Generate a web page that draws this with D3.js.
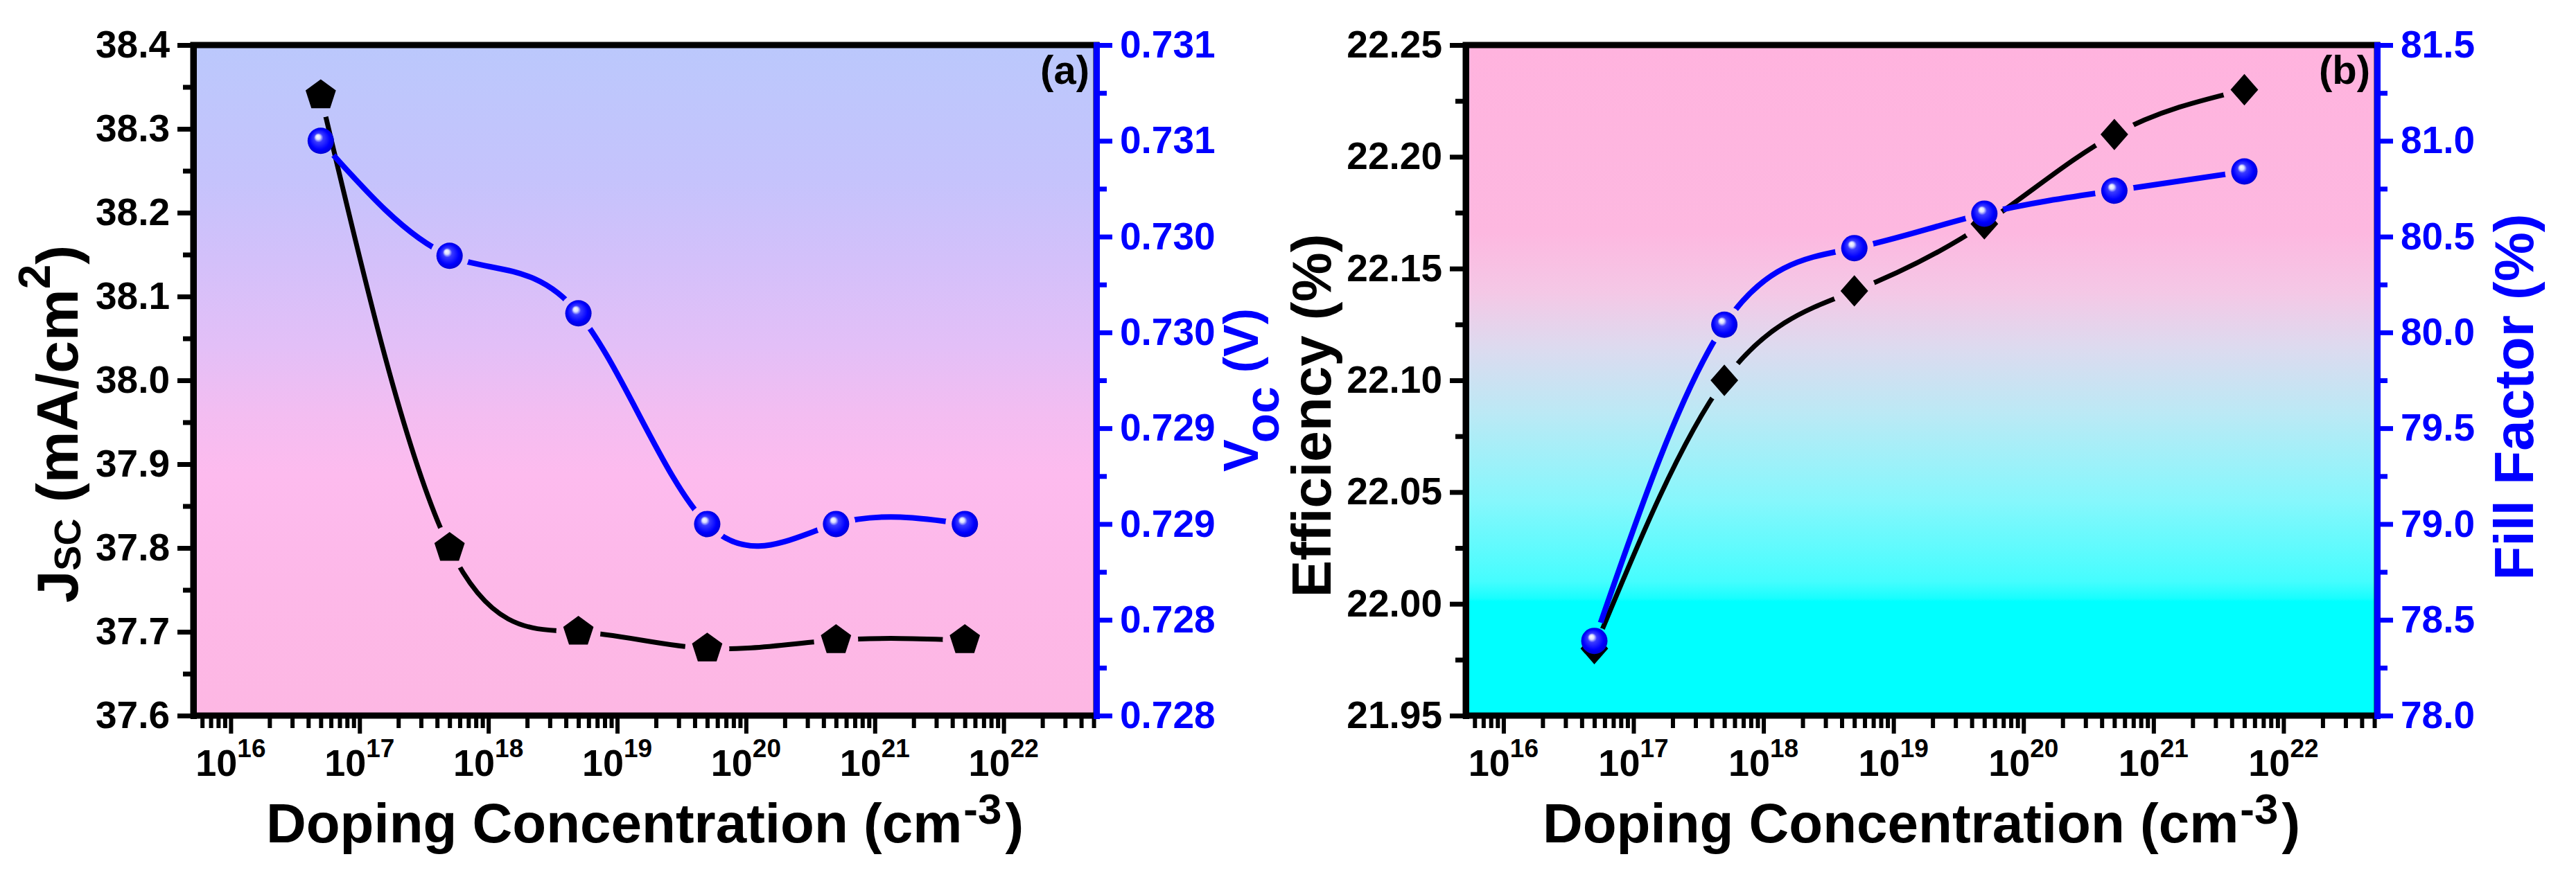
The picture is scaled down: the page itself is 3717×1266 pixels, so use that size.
<!DOCTYPE html>
<html>
<head>
<meta charset="utf-8">
<script src="https://cdn.jsdelivr.net/npm/d3@7"></script>
<style>
  html, body { margin: 0; padding: 0; background: #fff; }
  svg { display: block; font-family: "Liberation Sans", Arial, sans-serif; font-weight: bold; }
</style>
</head>
<body>
<svg id="chart"></svg>
<script>
// ---- data ----
const doping = [5e16, 5e17, 5e18, 5e19, 5e20, 5e21];
const jsc = [38.34, 37.80, 37.70, 37.68, 37.69, 37.69];
const voc = [0.7310, 0.7304, 0.7301, 0.7290, 0.7290, 0.7290];
const efficiency = [21.98, 22.10, 22.14, 22.17, 22.21, 22.23];
const fillFactor = [78.39, 80.04, 80.44, 80.62, 80.74, 80.84];

const xTickExps = [16, 17, 18, 19, 20, 21, 22];
const jscTicks = [37.6, 37.7, 37.8, 37.9, 38.0, 38.1, 38.2, 38.3, 38.4];
const vocTicks = [0.7280, 0.7285, 0.7290, 0.7295, 0.7300, 0.7305, 0.7310, 0.7315];
const vocTickLabels = ['0.728', '0.728', '0.729', '0.729', '0.730', '0.730', '0.731', '0.731'];
const effTicks = [21.95, 22.00, 22.05, 22.10, 22.15, 22.20, 22.25];
const ffTicks = [78.0, 78.5, 79.0, 79.5, 80.0, 80.5, 81.0, 81.5];

const W = 3717, H = 1266;
const BLUE = '#0000ff';

const svg = d3.select('#chart').attr('width', W).attr('height', H);
const defs = svg.append('defs');

// sphere marker gradient
const sphere = defs.append('radialGradient').attr('id', 'sphere')
    .attr('cx', 0.5).attr('cy', 0.5).attr('r', 0.55).attr('fx', 0.38).attr('fy', 0.33);
[[0, '#ffffff'], [0.16, '#d8dcff'], [0.32, '#3a3aff'], [0.7, '#0000ff'], [1, '#0000c8']]
    .forEach(s => sphere.append('stop').attr('offset', s[0]).attr('stop-color', s[1]));

// custom marker shapes (size = radius)
const symbolPentagon = {
    draw(ctx, r) {
        for (let i = 0; i < 5; i++) {
            const a = -Math.PI / 2 + i * 2 * Math.PI / 5;
            if (i === 0) ctx.moveTo(r * Math.cos(a), r * Math.sin(a));
            else ctx.lineTo(r * Math.cos(a), r * Math.sin(a));
        }
        ctx.closePath();
    }
};
const symbolDiamondSq = {
    draw(ctx, r) {
        ctx.moveTo(0, -r * 1.08);
        ctx.lineTo(r * 0.95, 0);
        ctx.lineTo(0, r * 1.08);
        ctx.lineTo(-r * 0.95, 0);
        ctx.closePath();
    }
};

class DualAxisPanel {
    constructor(config, data) {
        this.config = config;
        this.data = data;
        this.init();
    }

    init() {
        let self = this;
        const c = self.config;

        self.g = svg.append('g');
        self.inner_width = c.right - c.left;
        self.inner_height = c.bottom - c.top;

        // background gradient
        const grad = defs.append('linearGradient').attr('id', c.id + '-bg')
            .attr('x1', 0).attr('y1', 0).attr('x2', 0).attr('y2', 1);
        c.bgStops.forEach(s => grad.append('stop').attr('offset', s[0]).attr('stop-color', s[1]));

        self.g.append('rect')
            .attr('x', c.left).attr('y', c.top)
            .attr('width', self.inner_width).attr('height', self.inner_height)
            .attr('fill', `url(#${c.id}-bg)`);

        self.xscale = d3.scaleLog()
            .domain([Math.pow(10, 15.71), Math.pow(10, 22.72)])
            .range([c.left, c.right]);

        self.yleft = d3.scaleLinear()
            .domain(d3.extent(c.leftTicks))
            .range([c.bottom, c.top]);

        self.yright = d3.scaleLinear()
            .domain(d3.extent(c.rightTicks))
            .range([c.bottom, c.top]);
    }

    render() {
        let self = this;
        const c = self.config;

        // ---- series ----
        const line = (ys) => d3.line()
            .x(d => self.xscale(d.x))
            .y(d => ys(d.y))
            .curve(d3.curveNatural);

        const leftPts = self.data.x.map((x, i) => ({ x: x, y: self.data.left[i] }));
        const rightPts = self.data.x.map((x, i) => ({ x: x, y: self.data.right[i] }));

        self.drawSeries(leftPts, self.yleft, line(self.yleft), '#000', 7, 'left', c.leftGap);
        self.drawSeries(rightPts, self.yright, line(self.yright), BLUE, 8, 'right', 28);

        self.g.append('g').selectAll('path')
            .data(leftPts)
            .join('path')
            .attr('transform', d => `translate(${self.xscale(d.x)},${self.yleft(d.y)})`)
            .attr('d', d3.symbol().type(c.leftSymbol).size(c.leftSize))
            .attr('fill', '#000');

        self.g.append('g').selectAll('circle')
            .data(rightPts)
            .join('circle')
            .attr('cx', d => self.xscale(d.x))
            .attr('cy', d => self.yright(d.y))
            .attr('r', 19)
            .attr('fill', 'url(#sphere)');

        // ---- frame ----
        self.g.append('rect')
            .attr('x', c.left).attr('y', c.top)
            .attr('width', self.inner_width).attr('height', self.inner_height)
            .attr('fill', 'none').attr('stroke', '#000').attr('stroke-width', 9);

        // ---- bottom log axis ----
        const majors = xTickExps.map(e => Math.pow(10, e));
        const minors = self.xscale.ticks().filter(v => {
            const m = v / Math.pow(10, Math.floor(Math.log10(v) + 1e-9));
            return Math.abs(m - 1) > 1e-6;
        });
        const xMinor = self.g.append('g')
            .attr('transform', `translate(0,${c.bottom})`)
            .call(d3.axisBottom(self.xscale).tickValues(minors).tickSize(18).tickSizeOuter(0).tickFormat(''));
        const xMajor = self.g.append('g')
            .attr('transform', `translate(0,${c.bottom})`)
            .call(d3.axisBottom(self.xscale).tickValues(majors).tickSize(26).tickSizeOuter(0).tickFormat(''));
        [xMinor, xMajor].forEach(a => {
            a.select('.domain').remove();
            a.selectAll('line').attr('stroke', '#000').attr('stroke-width', 6);
        });

        self.g.append('g').selectAll('text')
            .data(xTickExps)
            .join('text')
            .attr('x', e => self.xscale(Math.pow(10, e)))
            .attr('y', 1120)
            .attr('text-anchor', 'middle')
            .attr('font-size', 54)
            .attr('fill', '#000')
            .each(function (e) {
                const t = d3.select(this);
                t.append('tspan').text('10');
                t.append('tspan').attr('font-size', 37).attr('dy', -27).text(e);
            });

        // ---- left axis ----
        self.drawYAxis(d3.axisLeft, self.yleft, c.leftTicks, c.leftFormat, c.left, '#000');
        // ---- right axis ----
        self.drawYAxis(d3.axisRight, self.yright, c.rightTicks, c.rightFormat, c.right, BLUE);

        // ---- titles ----
        const xt = self.g.append('text')
            .attr('x', (c.left + c.right) / 2)
            .attr('y', 1216)
            .attr('text-anchor', 'middle')
            .attr('font-size', 80)
            .attr('fill', '#000');
        xt.append('tspan').text('Doping Concentration (cm');
        xt.append('tspan').attr('font-size', 62).attr('dy', -27).attr('dx', 2).text('-3');
        xt.append('tspan').attr('dy', 27).attr('dx', 5).text(')');

        c.leftTitle(self.g);
        c.rightTitle(self.g);

        self.g.append('text')
            .attr('x', c.right - 10)
            .attr('y', 121)
            .attr('text-anchor', 'end')
            .attr('font-size', 58)
            .attr('fill', '#000')
            .text(c.label);
    }

    drawSeries(pts, ys, lineGen, color, width, key, gap) {
        let self = this;
        const maskId = `${self.config.id}-${key}-gap`;
        const mask = defs.append('mask').attr('id', maskId)
            .attr('maskUnits', 'userSpaceOnUse')
            .attr('x', 0).attr('y', 0).attr('width', W).attr('height', H);
        mask.append('rect').attr('width', W).attr('height', H).attr('fill', '#fff');
        mask.selectAll('circle')
            .data(pts)
            .join('circle')
            .attr('cx', d => self.xscale(d.x))
            .attr('cy', d => ys(d.y))
            .attr('r', gap)
            .attr('fill', '#000');

        self.g.append('path')
            .datum(pts)
            .attr('d', lineGen)
            .attr('fill', 'none')
            .attr('stroke', color)
            .attr('stroke-width', width)
            .attr('stroke-linecap', 'round')
            .attr('mask', `url(#${maskId})`);
    }

    drawYAxis(axisFn, scale, ticks, fmt, xpos, color) {
        let self = this;
        const minors = d3.pairs(ticks).map(p => (p[0] + p[1]) / 2);

        const minorG = self.g.append('g')
            .attr('transform', `translate(${xpos},0)`)
            .call(axisFn(scale).tickValues(minors).tickSize(15).tickSizeOuter(0).tickFormat(''));
        minorG.select('.domain').remove();

        const majorG = self.g.append('g')
            .attr('transform', `translate(${xpos},0)`)
            .call(axisFn(scale).tickValues(ticks).tickSize(23).tickPadding(11).tickSizeOuter(0).tickFormat(fmt));
        majorG.select('.domain')
            .attr('stroke', color).attr('stroke-width', 9).attr('stroke-linecap', 'square');

        [minorG, majorG].forEach(a => {
            a.selectAll('line').attr('stroke', color).attr('stroke-width', 7);
        });
        majorG.attr('font-size', 55)
            .attr('font-family', '"Liberation Sans", Arial, sans-serif')
            .attr('font-weight', 'bold');
        majorG.selectAll('text').attr('fill', color);
    }
}

// ---- panel (a) ----
const panelA = new DualAxisPanel({
    id: 'pa',
    left: 279, right: 1582, top: 65, bottom: 1033,
    bgStops: [[0, '#bbc8fc'], [0.2, '#c5c3fc'], [0.32, '#d3c0fa'], [0.45, '#e3bff7'],
              [0.55, '#f3bdf1'], [0.64, '#fdbbee'], [0.8, '#fdb8e8'], [1, '#fdb7e3']],
    leftTicks: jscTicks,
    leftFormat: d3.format('.1f'),
    rightTicks: vocTicks,
    rightFormat: (d, i) => vocTickLabels[i],
    leftSymbol: symbolPentagon, leftSize: 23, leftGap: 32,
    label: '(a)',
    leftTitle: g => {
        const t = g.append('text')
            .attr('transform', 'translate(112,612) rotate(-90)')
            .attr('text-anchor', 'middle')
            .attr('font-size', 84)
            .attr('fill', '#000');
        t.append('tspan').text('J');
        t.append('tspan').attr('font-size', 54).attr('dy', 4).text('SC');
        t.append('tspan').attr('dy', -4).text(' (mA/cm');
        t.append('tspan').attr('font-size', 64).attr('dy', -40).text('2');
        t.append('tspan').attr('dy', 40).text(')');
    },
    rightTitle: g => {
        const t = g.append('text')
            .attr('transform', 'translate(1815,563) rotate(-90)')
            .attr('text-anchor', 'middle')
            .attr('font-size', 70)
            .attr('fill', BLUE);
        t.append('tspan').text('V');
        t.append('tspan').attr('dy', 30).text('oc');
        t.append('tspan').attr('dy', -30).text(' (V)');
    }
}, { x: doping, left: jsc, right: voc });
panelA.render();

// ---- panel (b) ----
const panelB = new DualAxisPanel({
    id: 'pb',
    left: 2115, right: 3430, top: 65, bottom: 1033,
    bgStops: [[0, '#ffb3de'], [0.28, '#fdb8e0'], [0.37, '#f4c8e6'], [0.45, '#dddaef'],
              [0.55, '#bbe9f5'], [0.68, '#86f7fc'], [0.8, '#45fdfe'], [0.825, '#18fefe'],
              [0.83, '#00ffff'], [1, '#00ffff']],
    leftTicks: effTicks,
    leftFormat: d3.format('.2f'),
    rightTicks: ffTicks,
    rightFormat: d3.format('.1f'),
    leftSymbol: symbolDiamondSq, leftSize: 21, leftGap: 31,
    label: '(b)',
    leftTitle: g => {
        g.append('text')
            .attr('transform', 'translate(1920,600) rotate(-90)')
            .attr('text-anchor', 'middle')
            .attr('font-size', 80)
            .attr('fill', '#000')
            .text('Efficiency (%)');
    },
    rightTitle: g => {
        g.append('text')
            .attr('transform', 'translate(3655,573) rotate(-90)')
            .attr('text-anchor', 'middle')
            .attr('font-size', 80)
            .attr('fill', BLUE)
            .text('Fill Factor (%)');
    }
}, { x: doping, left: efficiency, right: fillFactor });
panelB.render();
</script>
</body>
</html>
